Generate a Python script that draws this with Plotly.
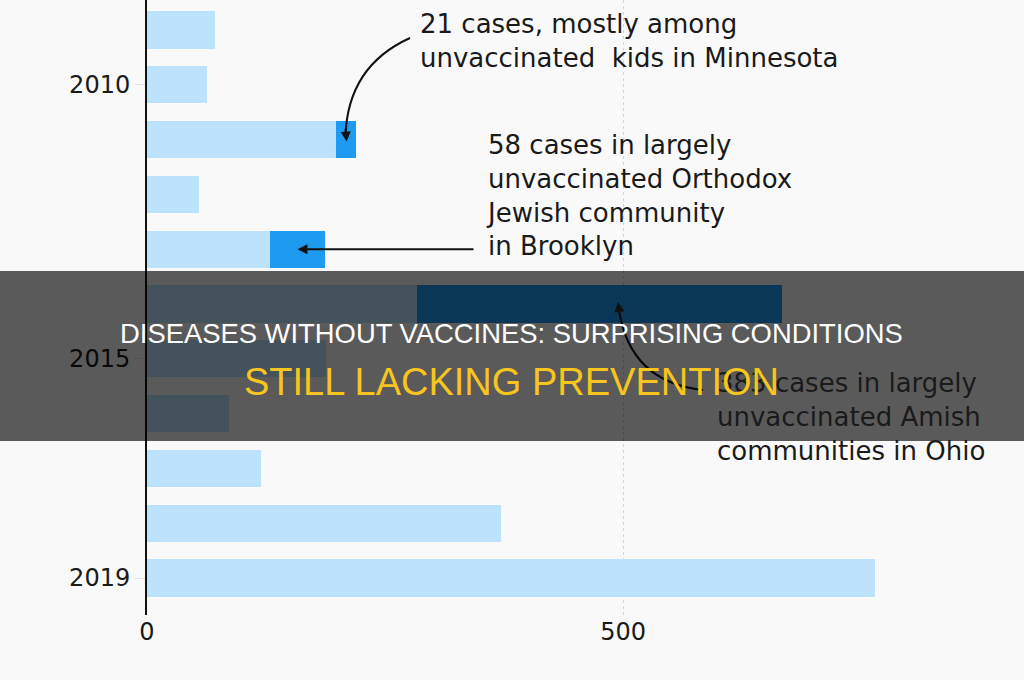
import plotly.graph_objects as go

# ---- data ----
years = [2009, 2010, 2011, 2012, 2013, 2014, 2015, 2016, 2017, 2018, 2019]
total_cases = [71, 63, 220, 55, 187, 667, 188, 86, 120, 372, 764]
outbreak_cases = [0, 0, 21, 0, 58, 383, 0, 0, 0, 0, 0]
ytick_years = [2010, 2015, 2019]
xtick_values = [0, 500]

other_cases = [t - o for t, o in zip(total_cases, outbreak_cases)]

LIGHT = "#bde2fb"
DARK = "#1e9af1"
BG = "#f9f9f9"
FONT = "DejaVu Sans, Verdana, sans-serif"

# layout geometry (pixels)
W, H = 1024, 680
ML, MR, MT, MB = 147, 20, 0, 65
PW, PH = W - ML - MR, H - MT - MB
XMAX = 900
YTOP, YBOT = 2008.453, 2019.675


def px_x(v):  # data -> pixel
    return ML + v * PW / XMAX


def px_y(yr):
    return MT + (yr - YTOP) * PH / (YBOT - YTOP)


def pap_x(p):  # pixel -> paper
    return (p - ML) / PW


def pap_y(p):
    return 1 - (p - MT) / PH


fig = go.Figure()
fig.add_trace(go.Bar(y=years, x=other_cases, orientation="h",
                     marker=dict(color=LIGHT, line_width=0), width=0.68,
                     hoverinfo="skip"))
fig.add_trace(go.Bar(y=years, x=outbreak_cases, orientation="h",
                     marker=dict(color=DARK, line_width=0), width=0.68,
                     hoverinfo="skip"))

shapes = []
annotations = []
TXT = dict(family=FONT, size=26, color="#1a1a1a")

# Minnesota (2011) curved arrow
i11 = years.index(2011)
hx = px_x(other_cases[i11] + outbreak_cases[i11] / 2)
hy = px_y(2011) + 2
sx, sy = 410, 38
shapes.append(dict(type="path", xref="paper", yref="paper",
                   path=f"M {pap_x(sx)},{pap_y(sy)} Q {pap_x(348)},{pap_y(66)} {pap_x(hx - 1)},{pap_y(hy - 6)}",
                   line=dict(color="#111", width=2), layer="above"))
annotations.append(dict(x=pap_x(hx), y=pap_y(hy), xref="paper", yref="paper",
                        text="", showarrow=True, arrowhead=2, arrowsize=1,
                        arrowwidth=2, arrowcolor="#111", ax=-1, ay=-14))
annotations.append(dict(x=pap_x(418), y=pap_y(7), xref="paper", yref="paper",
                        xanchor="left", yanchor="top", align="left",
                        text="21 cases, mostly among<br>unvaccinated  kids in Minnesota",
                        showarrow=False, font=TXT))

# Brooklyn (2013) straight arrow
i13 = years.index(2013)
bx = px_x(other_cases[i13] + outbreak_cases[i13] / 2)
by = px_y(2013)
annotations.append(dict(x=pap_x(bx), y=pap_y(by), xref="paper", yref="paper",
                        text="", showarrow=True, arrowhead=2, arrowsize=1,
                        arrowwidth=2, arrowcolor="#111", ax=475 - bx, ay=0))
annotations.append(dict(x=pap_x(484), y=pap_y(128), xref="paper", yref="paper",
                        xanchor="left", yanchor="top", align="left",
                        text="58 cases in largely<br>unvaccinated Orthodox<br>Jewish community<br>in Brooklyn",
                        showarrow=False, font=TXT))

# Ohio (2014) curved arrow
i14 = years.index(2014)
ox = px_x(other_cases[i14] + 0.55 * outbreak_cases[i14])
oy = px_y(2014) - 2
shapes.append(dict(type="path", xref="paper", yref="paper",
                   path=f"M {pap_x(703)},{pap_y(390)} Q {pap_x(630)},{pap_y(382)} {pap_x(ox + 1)},{pap_y(oy + 8)}",
                   line=dict(color="#111", width=2), layer="above"))
annotations.append(dict(x=pap_x(ox), y=pap_y(oy), xref="paper", yref="paper",
                        text="", showarrow=True, arrowhead=2, arrowsize=1,
                        arrowwidth=2, arrowcolor="#111", ax=2, ay=14))
annotations.append(dict(x=pap_x(715), y=pap_y(366), xref="paper", yref="paper",
                        xanchor="left", yanchor="top", align="left",
                        text="383 cases in largely<br>unvaccinated Amish<br>communities in Ohio",
                        showarrow=False, font=TXT))

# overlay banner
shapes.append(dict(type="rect", xref="paper", yref="paper",
                   x0=pap_x(0), x1=pap_x(W), y0=pap_y(441), y1=pap_y(271),
                   fillcolor="rgba(0,0,0,0.64)", line_width=0, layer="above"))
TFONT = "Liberation Sans, Arial, sans-serif"
annotations.append(dict(x=pap_x(511), y=pap_y(333), xref="paper", yref="paper",
                        xanchor="center", yanchor="middle",
                        text="DISEASES WITHOUT VACCINES: SURPRISING CONDITIONS",
                        showarrow=False, font=dict(family=TFONT, size=27.4, color="#ffffff")))
annotations.append(dict(x=pap_x(511), y=pap_y(382), xref="paper", yref="paper",
                        xanchor="center", yanchor="middle",
                        text="STILL LACKING PREVENTION",
                        showarrow=False, font=dict(family=TFONT, size=38, color="#f7c51e")))

fig.update_layout(
    width=W, height=H, barmode="stack", showlegend=False,
    margin=dict(l=ML, r=MR, t=MT, b=MB),
    paper_bgcolor=BG, plot_bgcolor=BG,
    shapes=shapes, annotations=annotations,
    xaxis=dict(range=[0, XMAX], tickvals=xtick_values, showgrid=True,
               gridcolor="#d4d4d4", griddash="dot", gridwidth=1,
               zeroline=False, showline=False, ticks="",
               tickfont=dict(family=FONT, size=24, color="#1a1a1a")),
    yaxis=dict(range=[YBOT, YTOP], tickvals=ytick_years, showgrid=False,
               zeroline=False, showline=True, linecolor="#111", linewidth=2,
               ticks="outside", ticklen=10, tickcolor="#e2e2e2",
               tickfont=dict(family=FONT, size=24, color="#1a1a1a")),
)

fig.write_html("out.html", config={"displayModeBar": False},
               post_script="document.body.style.margin='0';")
